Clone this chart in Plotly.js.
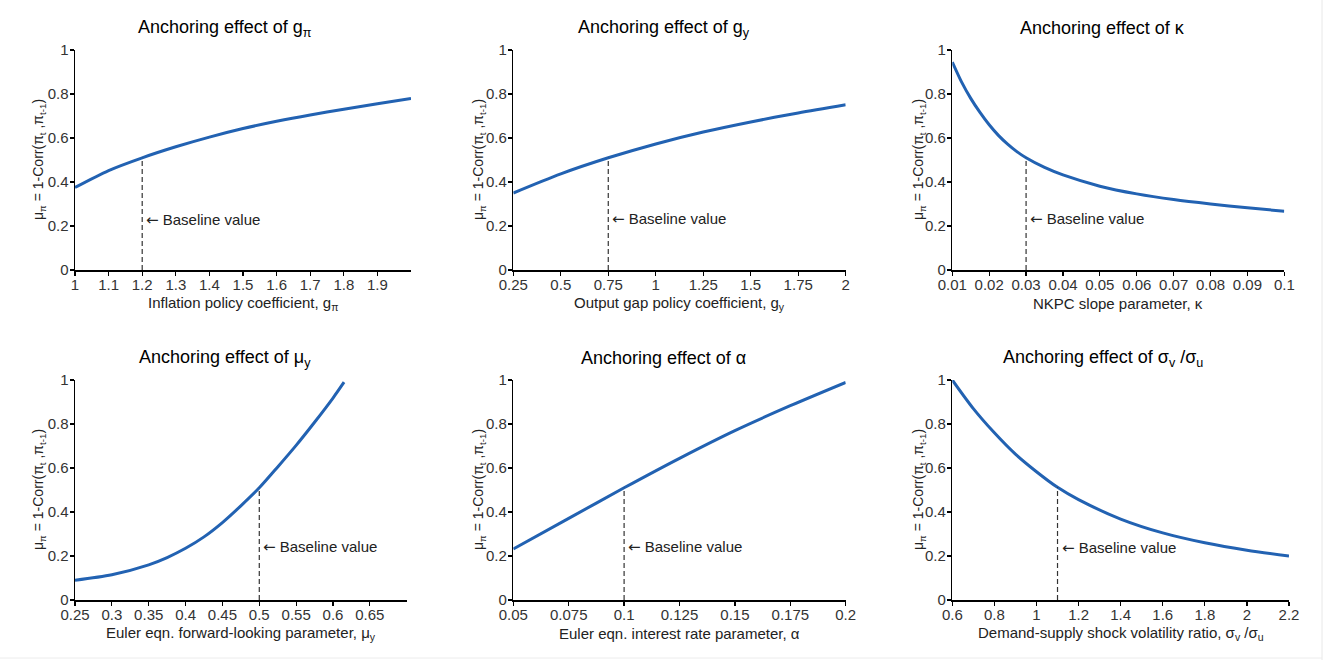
<!DOCTYPE html>
<html>
<head>
<meta charset="utf-8">
<script src="https://cdn.plot.ly/plotly-3.0.1.min.js"></script>
<style>html,body{margin:0;padding:0;background:#fff;}#chart{width:1333px;height:660px;}</style>
</head>
<body>
<div id="chart"></div>
<script>
// ---- Data ----
const gpiX = [1.0, 1.1, 1.2, 1.3, 1.4, 1.5, 1.6, 1.7, 1.8, 1.9, 2.0];
const gpiY = [0.375, 0.452, 0.51, 0.56, 0.604, 0.643, 0.676, 0.705, 0.731, 0.756, 0.78];

const gyX = [0.25, 0.5, 0.75, 1.0, 1.25, 1.5, 1.75, 2.0];
const gyY = [0.35, 0.437, 0.51, 0.573, 0.627, 0.673, 0.714, 0.751];

const kappaX = [0.01, 0.0125, 0.015, 0.0175, 0.02, 0.0225, 0.025, 0.0275, 0.03, 0.035, 0.04, 0.05, 0.06, 0.07, 0.08, 0.09, 0.1];
const kappaY = [0.945, 0.855, 0.78, 0.716, 0.66, 0.612, 0.572, 0.538, 0.51, 0.466, 0.432, 0.381, 0.346, 0.32, 0.3, 0.283, 0.267];

const muyX = [0.25, 0.3, 0.35, 0.375, 0.4, 0.425, 0.45, 0.475, 0.5, 0.525, 0.55, 0.575, 0.6, 0.615];
const muyY = [0.09, 0.115, 0.16, 0.193, 0.235, 0.287, 0.352, 0.428, 0.51, 0.605, 0.703, 0.808, 0.918, 0.99];

const alphaX = [0.05, 0.075, 0.1, 0.125, 0.15, 0.175, 0.2];
const alphaY = [0.232, 0.371, 0.51, 0.644, 0.77, 0.883, 0.989];

const sigmaX = [0.6, 0.7, 0.8, 0.9, 1.0, 1.1, 1.2, 1.4, 1.6, 1.8, 2.0, 2.2];
const sigmaY = [1.0, 0.87, 0.76, 0.663, 0.583, 0.512, 0.456, 0.368, 0.305, 0.26, 0.226, 0.2];

const baselineX = [1.2, 0.75, 0.03, 0.5, 0.1, 1.1];
const baselineY = [0.51, 0.51, 0.51, 0.51, 0.51, 0.512];
const baselineLabelY = [0.227, 0.23, 0.23, 0.24, 0.24, 0.236];

const xTickVals = [
  [1, 1.1, 1.2, 1.3, 1.4, 1.5, 1.6, 1.7, 1.8, 1.9],
  [0.25, 0.5, 0.75, 1, 1.25, 1.5, 1.75, 2],
  [0.01, 0.02, 0.03, 0.04, 0.05, 0.06, 0.07, 0.08, 0.09, 0.1],
  [0.25, 0.3, 0.35, 0.4, 0.45, 0.5, 0.55, 0.6, 0.65],
  [0.05, 0.075, 0.1, 0.125, 0.15, 0.175, 0.2],
  [0.6, 0.8, 1, 1.2, 1.4, 1.6, 1.8, 2, 2.2]
];
const xTickText = [
  ["1", "1.1", "1.2", "1.3", "1.4", "1.5", "1.6", "1.7", "1.8", "1.9"],
  ["0.25", "0.5", "0.75", "1", "1.25", "1.5", "1.75", "2"],
  ["0.01", "0.02", "0.03", "0.04", "0.05", "0.06", "0.07", "0.08", "0.09", "0.1"],
  ["0.25", "0.3", "0.35", "0.4", "0.45", "0.5", "0.55", "0.6", "0.65"],
  ["0.05", "0.075", "0.1", "0.125", "0.15", "0.175", "0.2"],
  ["0.6", "0.8", "1", "1.2", "1.4", "1.6", "1.8", "2", "2.2"]
];
const xRanges = [[1, 2], [0.25, 2], [0.01, 0.1], [0.25, 0.7], [0.05, 0.2], [0.6, 2.2]];
const yTickVals = [0, 0.2, 0.4, 0.6, 0.8, 1];
const yTickText = ["0", "0.2", "0.4", "0.6", "0.8", "1"];

const panelTitles = [
  "Anchoring effect of g<sub>π</sub>",
  "Anchoring effect of g<sub>y</sub>",
  "Anchoring effect of κ",
  "Anchoring effect of μ<sub>y</sub>",
  "Anchoring effect of α",
  "Anchoring effect of σ<sub>v</sub> /σ<sub>u</sub>"
];
const xTitles = [
  "Inflation policy coefficient, g<sub>π</sub>",
  "Output gap policy coefficient, g<sub>y</sub>",
  "NKPC slope parameter, κ",
  "Euler eqn. forward-looking parameter, μ<sub>y</sub>",
  "Euler eqn. interest rate parameter, α",
  "Demand-supply shock volatility ratio, σ<sub>v</sub> /σ<sub>u</sub>"
];
const yTitle = "μ<sub>π</sub> = 1-Corr(π<sub>t</sub> ,π<sub>t-1</sub>)";
const baselineText = "<span style=\"font-family:DejaVu Sans\">←</span> Baseline value";

const seriesX = [gpiX, gyX, kappaX, muyX, alphaX, sigmaX];
const seriesY = [gpiY, gyY, kappaY, muyY, alphaY, sigmaY];

// ---- Layout geometry (pixels) ----
const W = 1333, H = 660;
const plotBoxes = [
  [75, 411, 50, 270],
  [513.3, 845.7, 50, 270],
  [952.3, 1284.3, 50, 270],
  [75, 406.7, 380, 600],
  [513.3, 845.7, 380, 600],
  [952.3, 1289, 380, 600]
];
const titlePos = [[225, 28], [664, 28], [1102, 28], [225, 358], [663, 358], [1102.5, 358]];
const yTitleX = [39, 479, 919, 39, 479, 919];

const blue = "#2262b2";
const traces = [];
const layout = {
  width: W, height: H,
  margin: {l: 0, r: 0, t: 0, b: 0},
  paper_bgcolor: "#ffffff",
  plot_bgcolor: "#ffffff",
  showlegend: false,
  font: {family: "Liberation Sans, Arial, sans-serif", color: "#222"},
  annotations: [],
  shapes: [
    {type: "line", xref: "paper", yref: "paper", x0: 1322/W, x1: 1322/W, y0: 0, y1: 1, line: {color: "#e8e8e8", width: 1}},
    {type: "line", xref: "paper", yref: "paper", x0: 0, x1: 1322/W, y0: 1 - 658/H, y1: 1 - 658/H, line: {color: "#ececec", width: 1}}
  ]
};

for (let i = 0; i < 6; i++) {
  const n = i + 1;
  const xa = "x" + (n === 1 ? "" : n);
  const ya = "y" + (n === 1 ? "" : n);
  const b = plotBoxes[i];
  const axX = {
    domain: [b[0] / W, b[1] / W],
    range: xRanges[i],
    anchor: ya,
    showline: true, linecolor: "#000", linewidth: 1.5,
    ticks: "outside", ticklen: 4, tickwidth: 1.2, tickcolor: "#000",
    tickvals: xTickVals[i], ticktext: xTickText[i],
    tickfont: {size: 15, color: "#333"},
    ticklabelstandoff: -4,
    showgrid: false, zeroline: false, fixedrange: true
  };
  const axY = {
    domain: [1 - b[3] / H, 1 - b[2] / H],
    range: [0, 1],
    anchor: xa,
    showline: true, linecolor: "#000", linewidth: 1.5,
    ticks: "outside", ticklen: 4, tickwidth: 1.2, tickcolor: "#000",
    tickvals: yTickVals, ticktext: yTickText,
    tickfont: {size: 15, color: "#333"},
    ticklabelstandoff: -2,
    showgrid: false, zeroline: false, fixedrange: true
  };
  layout["xaxis" + (n === 1 ? "" : n)] = axX;
  layout["yaxis" + (n === 1 ? "" : n)] = axY;

  traces.push({
    x: seriesX[i], y: seriesY[i], xaxis: xa, yaxis: ya,
    type: "scatter", mode: "lines", cliponaxis: false,
    line: {color: blue, width: 3, shape: "spline", smoothing: 0.8},
    hoverinfo: "x+y"
  });
  traces.push({
    x: [baselineX[i], baselineX[i]], y: [0, baselineY[i]], xaxis: xa, yaxis: ya,
    type: "scatter", mode: "lines",
    line: {color: "#333", width: 1.2, dash: "5px,3px"},
    hoverinfo: "skip"
  });

  layout.annotations.push({
    xref: xa, yref: ya, x: baselineX[i], y: baselineLabelY[i],
    text: baselineText, showarrow: false, xanchor: "left", yanchor: "middle", xshift: 2,
    font: {size: 15, color: "#222"}
  });
  layout.annotations.push({
    xref: "paper", yref: "paper", x: titlePos[i][0] / W, y: 1 - titlePos[i][1] / H,
    text: panelTitles[i], showarrow: false, xanchor: "center", yanchor: "middle",
    font: {size: 18, color: "#000"}
  });
  layout.annotations.push({
    xref: "paper", yref: "paper", x: (b[0] + b[1]) / 2 / W, y: 1 - (b[3] + 33) / H,
    text: xTitles[i], showarrow: false, xanchor: "center", yanchor: "middle",
    font: {size: 15, color: "#222"}
  });
  layout.annotations.push({
    xref: "paper", yref: "paper", x: yTitleX[i] / W, y: 1 - (b[2] + b[3]) / 2 / H,
    text: yTitle, showarrow: false, xanchor: "center", yanchor: "middle", textangle: -90,
    font: {size: 14, color: "#222"}
  });
}

Plotly.newPlot("chart", traces, layout, {displayModeBar: false, staticPlot: true});
</script>
</body>
</html>
